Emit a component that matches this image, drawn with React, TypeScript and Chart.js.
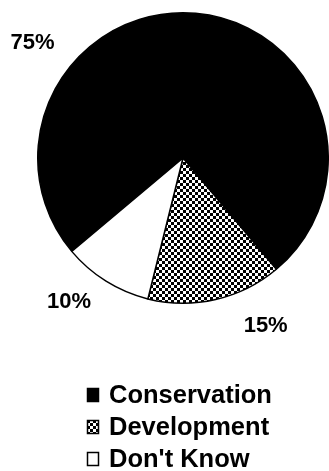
import React, { useEffect, useRef } from "react";
import { Chart, registerables } from "chart.js";

Chart.register(...registerables);

const categories = ["Conservation", "Development", "Don't Know"];
const shares = [75, 15, 10];

// label placement (style): angle from 12 o'clock clockwise (deg), radial factor of outer radius
const labelAngles = [307.7, 153.6, 218.5];
const labelRadii = [1.31, 1.28, 1.26];

function makeCheckerPattern(): CanvasPattern | string {
  const c = document.createElement("canvas");
  c.width = 6;
  c.height = 6;
  const g = c.getContext("2d");
  if (!g) return "#777";
  g.fillStyle = "#000";
  g.fillRect(0, 0, 6, 6);
  g.fillStyle = "#fff";
  g.fillRect(0, 0, 3, 3);
  g.fillRect(3, 3, 3, 3);
  const main = document.createElement("canvas").getContext("2d");
  const p = main ? main.createPattern(c, "repeat") : null;
  return p || "#777";
}

export default function App() {
  const ref = useRef<HTMLCanvasElement | null>(null);

  useEffect(() => {
    if (!ref.current) return;
    const pattern = makeCheckerPattern();
    const fills = ["#000000", pattern, "#ffffff"];

    const labelPlugin = {
      id: "pctLabels",
      afterDatasetsDraw(chart: any) {
        const ctx = chart.ctx;
        const meta = chart.getDatasetMeta(0);
        const data = chart.data.datasets[0].data as number[];
        const total = data.reduce((a, b) => a + b, 0);
        ctx.save();
        ctx.font = "bold 22px 'Liberation Sans', Arial, sans-serif";
        ctx.fillStyle = "#000";
        ctx.textAlign = "center";
        ctx.textBaseline = "middle";
        meta.data.forEach((arc: any, i: number) => {
          const a = (labelAngles[i] * Math.PI) / 180;
          const r = arc.outerRadius * labelRadii[i];
          const x = arc.x + r * Math.sin(a);
          const y = arc.y - r * Math.cos(a);
          ctx.fillText(Math.round((data[i] / total) * 100) + "%", x, y + 1);
        });
        ctx.restore();
      },
    };

    const legendPlugin = {
      id: "stackLegend",
      afterDraw(chart: any) {
        const ctx = chart.ctx;
        const labels = chart.data.labels as string[];
        const bg = chart.data.datasets[0].backgroundColor as any[];
        ctx.save();
        ctx.font = "bold 25.5px 'Liberation Sans', Arial, sans-serif";
        ctx.textBaseline = "middle";
        ctx.textAlign = "left";
        labels.forEach((lab, i) => {
          const cy = 395 + i * 32;
          ctx.fillStyle = bg[i];
          ctx.fillRect(87, cy - 7, 12, 14);
          ctx.strokeStyle = "#000";
          ctx.lineWidth = 1.5;
          ctx.strokeRect(87.5, cy - 6.5, 11, 13);
          ctx.fillStyle = "#000";
          ctx.fillText(lab, 109, cy + 1);
        });
        ctx.restore();
      },
    };

    const chart = new Chart(ref.current, {
      type: "pie",
      data: {
        labels: categories,
        datasets: [
          {
            data: shares,
            backgroundColor: fills as any,
            borderColor: "#000",
            borderWidth: 1.5,
          },
        ],
      },
      options: {
        responsive: false,
        animation: false,
        rotation: 230,
        layout: { padding: { left: 37, right: 0, top: 12, bottom: 167 } },
        plugins: {
          legend: { display: false },
          tooltip: { enabled: false },
        },
      },
      plugins: [labelPlugin, legendPlugin],
    });
    return () => chart.destroy();
  }, []);

  return (
    <div style={{ position: "absolute", left: 0, top: 0, width: 329, height: 471, background: "#fff" }}>
      <canvas ref={ref} width={329} height={471} style={{ width: 329, height: 471, display: "block" }} />
    </div>
  );
}
